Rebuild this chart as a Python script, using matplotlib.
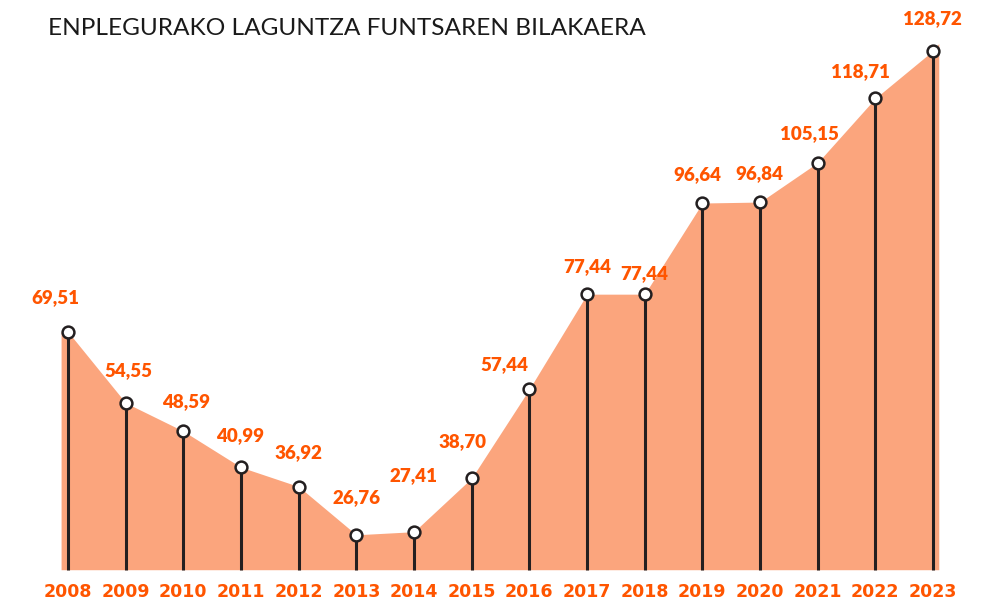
import matplotlib.pyplot as plt
import numpy as np

# data
years = ['2008', '2009', '2010', '2011', '2012', '2013', '2014', '2015',
         '2016', '2017', '2018', '2019', '2020', '2021', '2022', '2023']
values = [69.51, 54.55, 48.59, 40.99, 36.92, 26.76, 27.41, 38.70,
          57.44, 77.44, 77.44, 96.64, 96.84, 105.15, 118.71, 128.72]
title = 'ENPLEGURAKO LAGUNTZA FUNTSAREN BILAKAERA'

# label nudges in pixels (dx, dy) relative to each point
label_offsets = [(-13, 34), (3, 32), (3, 30), (-1, 32), (0, 34), (0, 37),
                 (-1, 56), (-9, 36), (-25, 25), (0, 28), (0, 21), (-5, 28),
                 (-1, 28), (-8, 29), (-15, 27), (-1, 32)]

FILL = '#FBA57D'
ORANGE = '#FF5500'
DARK = '#231F20'

fig = plt.figure(figsize=(9.91, 6.02), dpi=100)
ax = fig.add_axes([0, 0, 1, 1])

x = np.arange(len(years))
base = 19.4

# area (extends a bit past first/last point)
xf = np.concatenate([[x[0] - 0.12], x, [x[-1] + 0.1]])
yf = np.concatenate([[values[0]], values, [values[-1] + 1.5]])
ax.fill_between(xf, base, yf, color=FILL, linewidth=0, zorder=1)

# stems + markers
ax.vlines(x, base, values, color=DARK, linewidth=2.2, zorder=2)
ax.plot(x, values, linestyle='none', marker='o', markersize=8.5,
        markerfacecolor='white', markeredgecolor=DARK,
        markeredgewidth=1.8, zorder=3)

# value labels
for xi, v, (dx, dy) in zip(x, values, label_offsets):
    ax.annotate(f'{v:.2f}'.replace('.', ','), (xi, v),
                xytext=(dx * 0.72, dy * 0.72), textcoords='offset points',
                ha='center', va='center', color=ORANGE,
                fontsize=13.5, fontweight='heavy', family='Lato')

# year labels
for xi, yr in zip(x, years):
    ax.text(xi, 14.8, yr, ha='center', va='center', color=ORANGE,
            fontsize=12.5, fontweight='bold', family='DejaVu Sans')

ax.text(-0.35, 133.5, title, ha='left', va='center', color='#1a1a1a',
        fontsize=17.6, fontweight='normal', family='Lato')

# pixel-matched limits
px = (933 - 68) / 15
ax.set_xlim(-68 / px, (991 - 68) / px)
ax.set_ylim(12.6, 139.4)
ax.axis('off')

fig.savefig('out.png', dpi=100)
